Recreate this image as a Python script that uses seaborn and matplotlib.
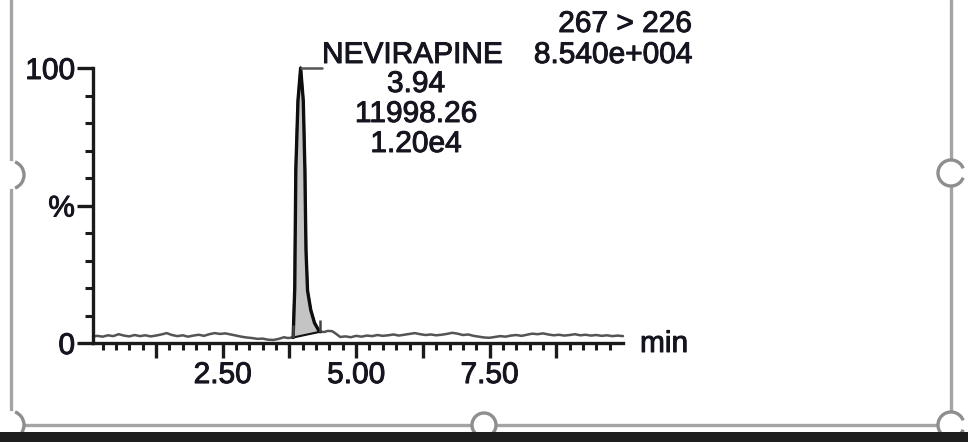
"""
plot.py
Cromatograma MRM de nevirapina (267 > 226), recreado con seaborn.
"""

import numpy as np
import matplotlib
matplotlib.use('Agg')
import matplotlib.pyplot as plt
import matplotlib.patheffects as pe
from matplotlib.patches import Arc, Ellipse, Rectangle
from matplotlib.lines import Line2D
import seaborn as sns

# ──────────────────────────────────────────────────────────────────────────────
# DATOS
# ──────────────────────────────────────────────────────────────────────────────
tiempo = [
    0.07, 0.15, 0.25, 0.35, 0.45, 0.55, 0.65, 0.75, 0.85, 0.95,
    1.05, 1.15, 1.25, 1.35, 1.45, 1.55, 1.65, 1.75, 1.85, 1.95,
    2.05, 2.15, 2.25, 2.35, 2.45, 2.55, 2.65, 2.75, 2.85, 2.95,
    3.05, 3.15, 3.25, 3.35, 3.45, 3.55, 3.65, 3.72, 3.82, 3.85,
    3.87, 3.91, 3.96, 4.01, 4.04, 4.06, 4.09, 4.15, 4.22, 4.31,
    4.33, 4.40, 4.47, 4.55, 4.62, 4.70, 4.80, 4.90, 5.00, 5.10,
    5.20, 5.30, 5.40, 5.50, 5.60, 5.70, 5.80, 5.90, 6.00, 6.10,
    6.20, 6.30, 6.40, 6.50, 6.60, 6.70, 6.80, 6.90, 7.00, 7.10,
    7.20, 7.30, 7.40, 7.50, 7.60, 7.70, 7.80, 7.90, 8.00, 8.10,
    8.20, 8.30, 8.40, 8.50, 8.60, 8.70, 8.80, 8.90, 9.00, 9.10,
    9.20, 9.30, 9.40, 9.50, 9.60, 9.70, 9.80, 9.90, 10.00,
]
intensidad = [
    2.4, 2.6, 2.3, 2.8, 2.5, 3.2, 2.7, 2.4, 2.9, 2.5,
    2.8, 2.4, 2.7, 3.1, 3.6, 2.9, 2.5, 2.8, 2.3, 2.7,
    3.0, 2.6, 3.2, 3.6, 3.3, 3.5, 3.1, 2.7, 2.3, 2.0,
    1.8, 1.5, 1.6, 1.2, 1.1, 1.5, 2.1, 1.8, 2.0, 20.0,
    63.0, 88.0, 100.0, 88.0, 63.0, 34.0, 19.0, 12.0, 7.3, 4.2,
    4.1, 4.0, 4.4, 4.3, 3.4, 2.2, 2.4, 2.1, 2.6, 2.3,
    2.7, 2.5, 2.9, 2.6, 2.8, 3.1, 2.7, 3.0, 3.3, 3.6,
    3.2, 2.9, 3.1, 2.8, 3.0, 3.3, 3.7, 3.4, 2.9, 3.1,
    2.6, 2.3, 2.0, 1.9, 2.2, 2.5, 2.3, 2.7, 2.9, 2.6,
    3.0, 3.4, 3.2, 3.5, 3.1, 2.8, 3.0, 2.7, 2.9, 3.2,
    2.8, 3.0, 2.7, 2.9, 2.6, 2.8, 2.5, 2.7, 2.5,
]

# Integración del pico: inicio y fin (min, %)
pico_inicio = [3.82, 2.0]
pico_fin = [4.33, 4.1]
pico_apex = [3.96, 100.0]
marca_alto = [6.5, 8.5]          # altura superior de las marcas de integración
guia_fin = 4.36                  # fin de la línea guía hacia la etiqueta

xticks_mayores = [1.25, 2.50, 3.75, 5.00, 6.25, 7.50, 8.75]
xticks_etiquetas = ['', '2.50', '', '5.00', '', '7.50', '']
xticks_menores = [0.25, 0.50, 0.75, 1.00, 1.50, 1.75, 2.00, 2.25, 2.75, 3.00,
                  3.25, 3.50, 4.00, 4.25, 4.50, 4.75, 5.25, 5.50, 5.75, 6.00,
                  6.50, 6.75, 7.00, 7.25, 7.75, 8.00, 8.25, 8.50, 9.00, 9.25,
                  9.50, 9.75]
yticks_mayores = [0, 50, 100]
yticks_etiquetas = ['0', '%', '100']
yticks_menores = [10, 20, 30, 40, 60, 70, 80, 90]

textos_cabecera = ['267 > 226', '8.540e+004']
textos_pico = ['NEVIRAPINE', '3.94', '11998.26', '1.20e4']

# ──────────────────────────────────────────────────────────────────────────────
# ESTILO
# ──────────────────────────────────────────────────────────────────────────────
sns.set_style('ticks')
plt.rcParams['font.family'] = ['Liberation Sans', 'DejaVu Sans']
COLOR_TEXTO = '#15151f'
COLOR_EJE = '#1a1a1a'
FS = 21.5
TRAZO = [pe.withStroke(linewidth=0.7, foreground=COLOR_TEXTO)]

W, H = 968, 442
fig = plt.figure(figsize=(W / 100, H / 100), dpi=100)


def fx(px):
    return px / W


def fy(py):
    return 1 - py / H


# Ejes: x de 93 a 623 px, y de 343 a 68 px
ax = fig.add_axes([fx(93), fy(343), fx(623 - 93), (343 - 68) / H])
ax.set_xlim(0.07, 10.0)
ax.set_ylim(0, 100)

# Traza completa (gris) y pico (negro)
sns.lineplot(x=tiempo, y=intensidad, ax=ax, color='#545454', lw=1.8,
             estimator=None, sort=False, clip_on=False)

t = np.array(tiempo)
y = np.array(intensidad)
mask = (t >= pico_inicio[0]) & (t <= pico_fin[0])
linea_base = np.interp(t[mask], [pico_inicio[0], pico_fin[0]],
                       [pico_inicio[1], pico_fin[1]])
ax.fill_between(t[mask], linea_base, y[mask], color='#c4c4c4', lw=0, zorder=2)
sns.lineplot(x=t[mask], y=y[mask], ax=ax, color='#0e0e0e', lw=2.4,
             estimator=None, sort=False, clip_on=False, zorder=3)
ax.plot([pico_inicio[0], pico_fin[0]], [pico_inicio[1], pico_fin[1]],
        color='#111111', lw=1.5, zorder=3)
ax.vlines([pico_inicio[0], pico_fin[0]], [pico_inicio[1], pico_fin[1]],
          marca_alto, color='#444444', lw=1.8, zorder=3)
ax.plot([pico_apex[0], guia_fin], [pico_apex[1], pico_apex[1]],
        color='#555555', lw=1.8, clip_on=False, zorder=3)

# Ejes y ticks
sns.despine(ax=ax)
for lado in ['left', 'bottom']:
    ax.spines[lado].set_linewidth(2.4)
    ax.spines[lado].set_color(COLOR_EJE)

ax.set_xticks(xticks_mayores, xticks_etiquetas)
ax.set_xticks(xticks_menores, minor=True)
ax.set_yticks(yticks_mayores, yticks_etiquetas)
ax.set_yticks(yticks_menores, minor=True)
ax.tick_params(axis='x', which='major', length=10.5, width=2.4, pad=2.5,
               labelsize=FS, labelcolor=COLOR_TEXTO, color=COLOR_EJE)
ax.tick_params(axis='x', which='minor', length=5, width=2.2, color=COLOR_EJE)
ax.tick_params(axis='y', which='major', length=11.5, width=2.4, pad=1.5,
               labelsize=FS, labelcolor=COLOR_TEXTO, color=COLOR_EJE)
ax.tick_params(axis='y', which='minor', length=6, width=2.2, color=COLOR_EJE)
for etiqueta in ax.get_xticklabels() + ax.get_yticklabels():
    etiqueta.set_path_effects(TRAZO)
ax.set_xlabel('')
ax.set_ylabel('')
ax.grid(False)

# ──────────────────────────────────────────────────────────────────────────────
# TEXTOS
# ──────────────────────────────────────────────────────────────────────────────
estilo = dict(fontsize=FS, color=COLOR_TEXTO, path_effects=TRAZO)
fig.text(fx(692), fy(32), textos_cabecera[0], ha='right', va='baseline', **estilo)
fig.text(fx(692), fy(63), textos_cabecera[1], ha='right', va='baseline', **estilo)
fig.text(fx(322), fy(63), textos_pico[0], ha='left', va='baseline', **estilo)
for texto, base in zip(textos_pico[1:], [92, 122, 152]):
    fig.text(fx(416), fy(base), texto, ha='center', va='baseline', **estilo)
fig.text(fx(640), fy(352), 'min', ha='left', va='baseline', **estilo)

# ──────────────────────────────────────────────────────────────────────────────
# MARCO DE SELECCIÓN (captura de pantalla)
# ──────────────────────────────────────────────────────────────────────────────
GRIS = '#a4a4a4'
for xs, ys in [([11, 11], [0, 425]), ([951, 951], [0, 425]),
               ([11, 951], [425, 425])]:
    fig.add_artist(Line2D([fx(v) for v in xs], [fy(v) for v in ys],
                          color=GRIS, lw=2.4, zorder=5))

asas = [  # (x, y, radio, theta1, theta2)
    (10, 175, 14, -80, 80),
    (951, 173, 13, 40, 320),
    (10, 425, 14, -80, 80),
    (484, 425, 12, 0, 360),
    (951, 425, 13, 40, 320),
]
for cx, cy, r, t1, t2 in asas:
    fig.add_artist(Ellipse((fx(cx), fy(cy)), 2 * r / W, 2 * r / H,
                           facecolor='white', edgecolor='none', zorder=6))
    fig.add_artist(Arc((fx(cx), fy(cy)), 2 * r / W, 2 * r / H,
                       theta1=t1, theta2=t2, color='#8e8e8e', lw=2.4,
                       zorder=7))

# Franja oscura inferior
fig.add_artist(Rectangle((0, 0), 1, 10 / H, transform=fig.transFigure,
                         facecolor='#1e1e1e', edgecolor='none', zorder=8))

fig.savefig('out.png', dpi=100)
